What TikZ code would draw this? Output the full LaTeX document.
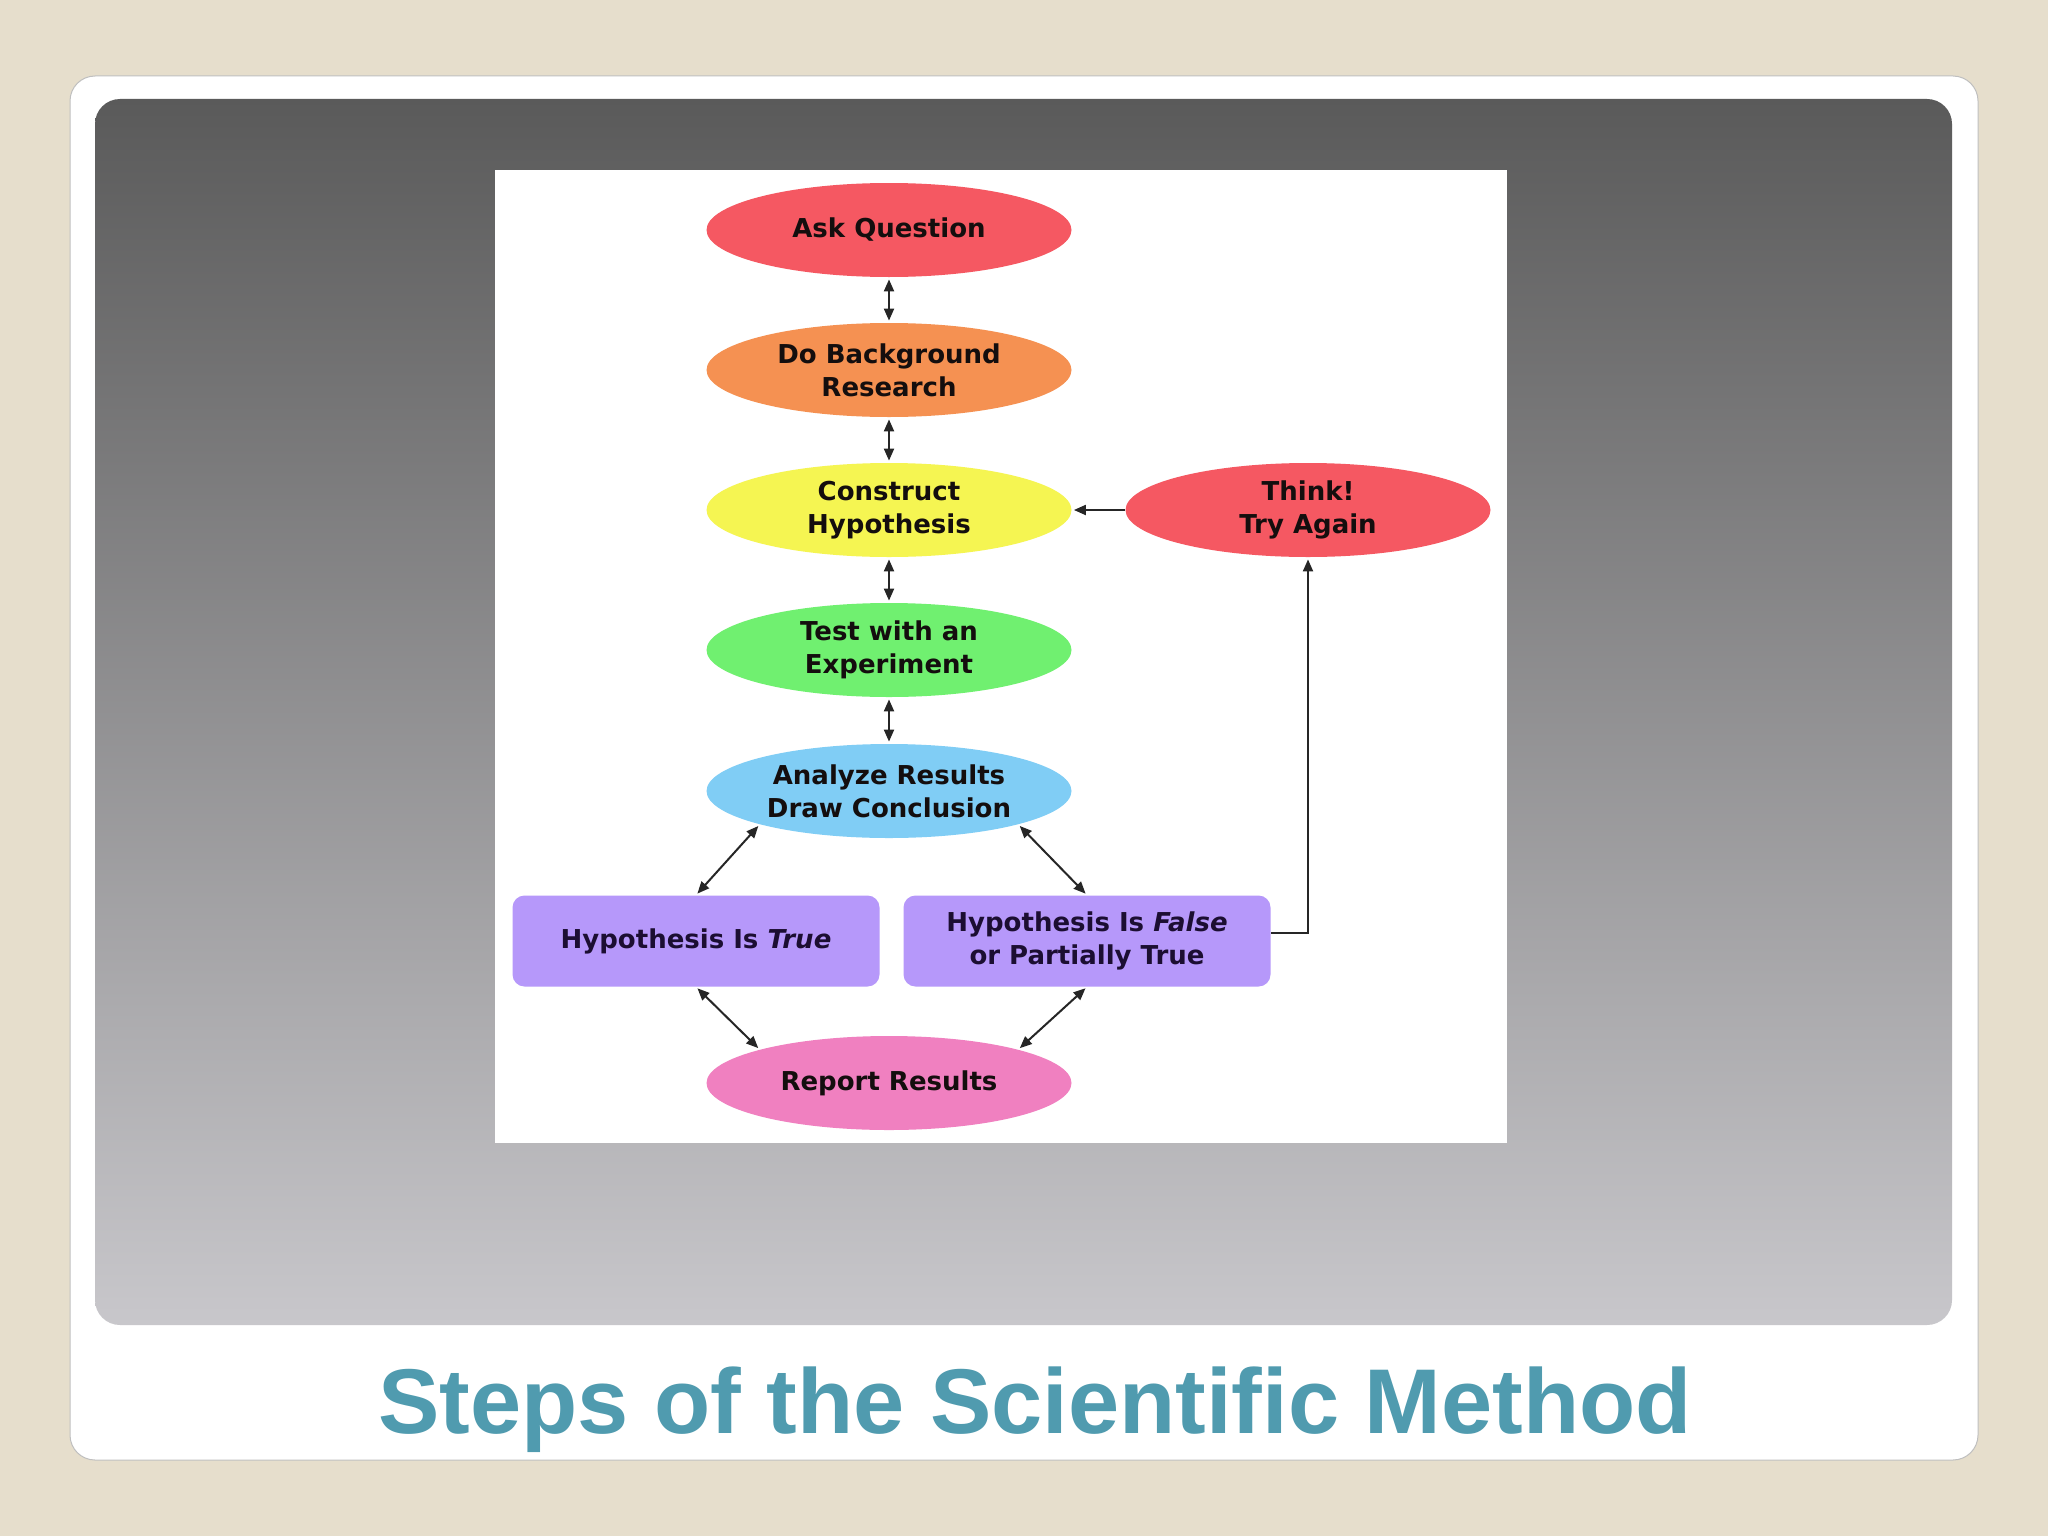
\documentclass[tikz,border=0pt]{standalone}
\usepackage{fontspec}
\setmainfont{DejaVu Sans}
\newfontfamily\titlefont{Liberation Sans}
\usetikzlibrary{shapes.geometric,arrows.meta,calc}
\definecolor{bgbeige}{RGB}{230,222,204}
\definecolor{gtop}{RGB}{90,90,90}
\definecolor{gbot}{RGB}{200,199,203}
\definecolor{askred}{RGB}{245,88,98}
\definecolor{orng}{RGB}{245,145,82}
\definecolor{yel}{RGB}{245,245,82}
\definecolor{grn}{RGB}{112,240,112}
\definecolor{lblue}{RGB}{128,205,245}
\definecolor{lav}{RGB}{182,152,250}
\definecolor{pnk}{RGB}{240,128,192}
\definecolor{titleteal}{RGB}{80,155,175}
\definecolor{inkdark}{RGB}{20,14,14}
\definecolor{inknavy}{RGB}{28,14,50}
\tikzset{
  oval/.style={ellipse, minimum width=182.5pt, minimum height=47pt, inner sep=-6pt,
    align=center, text=inkdark, font=\bfseries\fontsize{13}{16.5}\selectfont},
  hbox/.style={rectangle, rounded corners=6pt, fill=lav, minimum width=183.5pt,
    minimum height=45.5pt, inner sep=0pt, align=center, text=inknavy,
    font=\bfseries\fontsize{13}{16.5}\selectfont},
  tip/.tip={Triangle[length=6pt,width=5pt]},
  conn/.style={tip-tip, line width=1pt, draw=black!85, shorten <=1pt, shorten >=1pt},
  oneway/.style={-tip, line width=1pt, draw=black!85, shorten >=1pt}
}
\begin{document}
\begin{tikzpicture}[x=0.5pt,y=-0.5pt]
\useasboundingbox (0,0) rectangle (2048,1536);
\fill[bgbeige] (0,0) rectangle (2048,1536);
\fill[white, draw=black!25, line width=0.5pt, rounded corners=12.5pt] (70,76) rectangle (1978,1460);
\shade[top color=gtop, bottom color=gbot, rounded corners=12.5pt] (95,99) rectangle (1952,1325);
\fill[white] (495,170) rectangle (1507,1143);

\node[oval, fill=askred] (ask) at (889,230) {Ask Question};
\node[oval, fill=orng] (bg) at (889,370) {Do Background\\Research};
\node[oval, fill=yel] (con) at (889,510) {Construct\\Hypothesis};
\node[oval, fill=askred] (think) at (1308,510) {Think!\\Try Again};
\node[oval, fill=grn] (test) at (889,650) {Test with an\\Experiment};
\node[oval, fill=lblue] (ana) at (889,791) {Analyze Results\\Draw Conclusion};
\node[hbox] (true) at (696,941) {Hypothesis Is \textit{True}};
\node[hbox] (false) at (1087,941) {Hypothesis Is \textit{False}\\or Partially True};
\node[oval, fill=pnk] (rep) at (889,1083) {Report Results};

\draw[conn] (ask) -- (bg);
\draw[conn] (bg) -- (con);
\draw[conn] (con) -- (test);
\draw[conn] (test) -- (ana);
\draw[conn] (ana.south west) -- (true.north);
\draw[conn] (ana.south east) -- (false.north);
\draw[conn] (true.south) -- (rep.north west);
\draw[conn] (false.south) -- (rep.north east);
\draw[oneway] (think) -- (con);
\draw[oneway] ([yshift=4pt]false.east) -| (think.south);

\node[font=\titlefont\bfseries\fontsize{46}{50}\selectfont, text=titleteal, anchor=base] (title) at (1035,1433) {Steps of the Scientific Method};
\end{tikzpicture}
\end{document}
